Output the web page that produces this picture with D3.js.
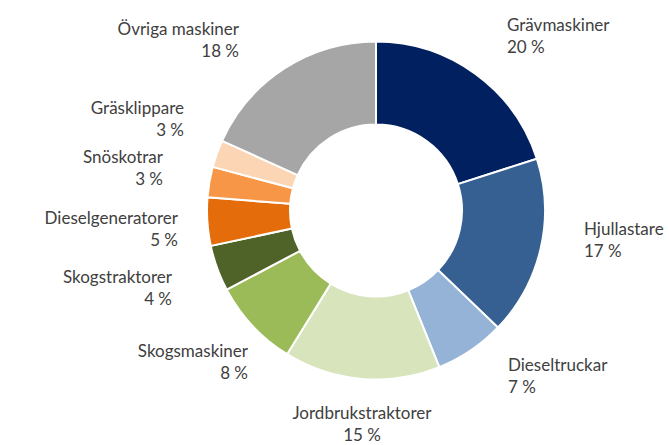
<!DOCTYPE html>
<html>
<head>
<meta charset="utf-8">
<script src="https://cdn.jsdelivr.net/npm/d3@7"></script>
<style>
  body { margin: 0; background: #fff; }
  svg { display: block; }
  text { font-family: Lato, "Open Sans", sans-serif; font-size: 17px; fill: #404040; }
</style>
</head>
<body>
<div class="chart"></div>
<script>
// data (share of total, %)
var categories = ["Grävmaskiner", "Hjullastare", "Dieseltruckar", "Jordbrukstraktorer",
                  "Skogsmaskiner", "Skogstraktorer", "Dieselgeneratorer", "Snöskotrar",
                  "Gräsklippare", "Övriga maskiner"];
var values = [20, 17.1, 6.7, 14.9, 8.4, 4.4, 4.6, 2.9, 2.6, 18.2];
var colors = ["#002060", "#376092", "#95b3d7", "#d8e4bc", "#9bbb59",
              "#4f6228", "#e46c0a", "#f79646", "#fcd5b5", "#a6a6a6"];

// label placement (anchor x, first baseline y, text-anchor)
var labelX = [507, 584, 508, 362, 248, 172, 178, 163, 184, 239];
var labelY = [31, 235, 371, 419, 357, 283, 224, 163, 114, 35];
var labelAnchor = ["start", "start", "start", "middle", "end", "end", "end", "end", "end", "end"];

(function(){
    var w = 669, h = 445;
    var cx = 376, cy = 210.5,
        outerR = 169, innerR = 86;

    var svg = d3.select("div.chart")
                .append("svg")
                .attr("width", w)
                .attr("height", h);

    var pie = d3.pie().sort(null).value(function(d) { return d; });
    var arc = d3.arc().innerRadius(innerR).outerRadius(outerR);

    svg.append("g")
        .attr("transform", "translate(" + cx + "," + cy + ")")
        .selectAll("path")
        .data(pie(values))
        .enter()
        .append("path")
        .attr("d", arc)
        .attr("fill", function(d, i) { return colors[i]; })
        .attr("stroke", "#fff")
        .attr("stroke-width", 2);

    var lab = svg.selectAll("g.lab")
        .data(categories)
        .enter()
        .append("text")
        .attr("text-anchor", function(d, i) { return labelAnchor[i]; });

    lab.append("tspan")
        .attr("x", function(d, i) { return labelX[i]; })
        .attr("y", function(d, i) { return labelY[i]; })
        .text(function(d) { return d; });

    lab.append("tspan")
        .attr("x", function(d, i) { return labelX[i]; })
        .attr("y", function(d, i) { return labelY[i] + 22; })
        .text(function(d, i) { return Math.round(values[i]) + " %"; });
})();
</script>
</body>
</html>
